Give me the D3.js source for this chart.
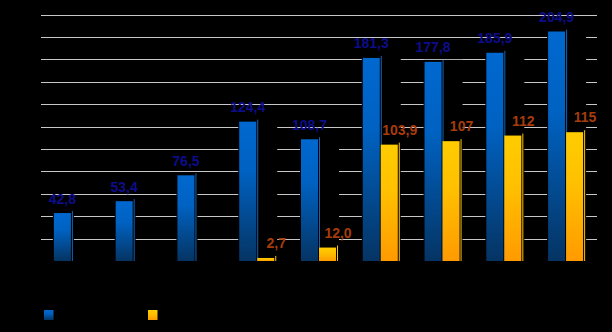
<!DOCTYPE html>
<html>
<head>
<meta charset="utf-8">
<script src="https://cdn.jsdelivr.net/npm/d3@7"></script>
<style>
  html, body { margin: 0; padding: 0; background: #000; }
  svg { display: block; }
</style>
</head>
<body>
<script>
// Chart data
const categories = ["c1", "c2", "c3", "c4", "c5", "c6", "c7", "c8", "c9"];
const seriesA = [42.8, 53.4, 76.5, 124.4, 108.7, 181.3, 177.8, 185.9, 204.9];
const seriesB = [null, null, null, 2.7, 12.0, 103.9, 107, 112, 115];
const labelsA = ["42,8", "53,4", "76,5", "124,4", "108,7", "181,3", "177,8", "185,9", "204,9"];
const labelsB = [null, null, null, "2,7", "12,0", "103,9", "107", "112", "115"];
const gridTicks = [20, 40, 60, 80, 100, 120, 140, 160, 180, 200, 220];

const W = 612, H = 332;
const svg = d3.select("body").append("svg").attr("width", W).attr("height", H);
svg.append("rect").attr("width", W).attr("height", H).attr("fill", "#000");

const defs = svg.append("defs");
function grad(id, stops) {
  const g = defs.append("linearGradient").attr("id", id)
    .attr("x1", 0).attr("y1", 0).attr("x2", 0).attr("y2", 1);
  stops.forEach(s => g.append("stop").attr("offset", s[0]).attr("stop-color", s[1]));
}
grad("gBlue", [[0, "#0068cf"], [0.35, "#0062c2"], [1, "#053463"]]);
grad("gYellow", [[0, "#ffcc00"], [0.4, "#ffc000"], [1, "#ff9a00"]]);

const x0 = d3.scaleBand().domain(categories).range([41, 597]).padding(0);
const groupW = 36;
const x1 = d3.scaleBand().domain(["a", "b"]).range([0, groupW]).padding(0);
const y = d3.scaleLinear().domain([0, 220]).range([261, 14.6]);
const bw = x1.bandwidth() - 1;
const offs = (x0.bandwidth() - groupW) / 2;

// grid lines
svg.append("g").selectAll("line").data(gridTicks).join("line")
  .attr("x1", 41).attr("x2", 597)
  .attr("y1", d => Math.round(y(d)) + 0.5).attr("y2", d => Math.round(y(d)) + 0.5)
  .attr("stroke", "#c8c8c8").attr("stroke-width", 1.2);

const groups = svg.append("g").selectAll("g").data(categories).join("g")
  .attr("transform", d => `translate(${x0(d) + offs},0)`);

// dark gap around each bar group, breaking the grid lines
groups.each(function (d, i) {
  const g = d3.select(this);
  const hasB = seriesB[i] != null;
  const right = hasB ? x1("b") + bw + 3 : x1("a") + bw + 3;
  const top = Math.min(y(seriesA[i]), hasB ? y(seriesB[i]) : 261) - 2;
  g.append("rect").attr("x", x1("a") - 1).attr("y", top)
    .attr("width", right - x1("a") + 1).attr("height", 261 - top).attr("fill", "#000");
});

function drawBar(g, v, key, fill, lineColor) {
  const top = y(v);
  g.append("line")
    .attr("x1", x1(key) + bw + 1.5).attr("x2", x1(key) + bw + 1.5)
    .attr("y1", top - 2).attr("y2", 261)
    .attr("stroke", lineColor).attr("stroke-width", 1);
  g.append("rect")
    .attr("x", x1(key)).attr("y", top)
    .attr("width", bw).attr("height", 261 - top)
    .attr("fill", fill);
}

groups.each(function (d, i) {
  const g = d3.select(this);
  drawBar(g, seriesA[i], "a", "url(#gBlue)", "#1462b8");
  if (seriesB[i] != null) drawBar(g, seriesB[i], "b", "url(#gYellow)", "#ffc400");
});

// value labels
const font = "'Liberation Sans', Arial, sans-serif";
groups.append("text")
  .attr("x", x1("a") + bw / 2)
  .attr("y", (d, i) => y(seriesA[i]) - 9.5)
  .attr("text-anchor", "middle")
  .attr("font-family", font).attr("font-weight", "bold").attr("font-size", 14)
  .attr("fill", "#0d0d8a")
  .text((d, i) => labelsA[i]);

groups.filter((d, i) => labelsB[i] != null).append("text")
  .attr("x", x1("b") + bw + 2)
  .attr("y", d => y(seriesB[categories.indexOf(d)]) - 10)
  .attr("text-anchor", "middle")
  .attr("font-family", font).attr("font-weight", "bold").attr("font-size", 14)
  .attr("fill", "#a63c0c")
  .text(d => labelsB[categories.indexOf(d)]);

// legend swatches
const legend = svg.append("g");
[["url(#gBlue)", 44], ["url(#gYellow)", 148]].forEach(([f, lx]) => {
  legend.append("rect").attr("x", lx).attr("y", 310).attr("width", 9.5).attr("height", 10).attr("fill", f);
});
</script>
</body>
</html>
